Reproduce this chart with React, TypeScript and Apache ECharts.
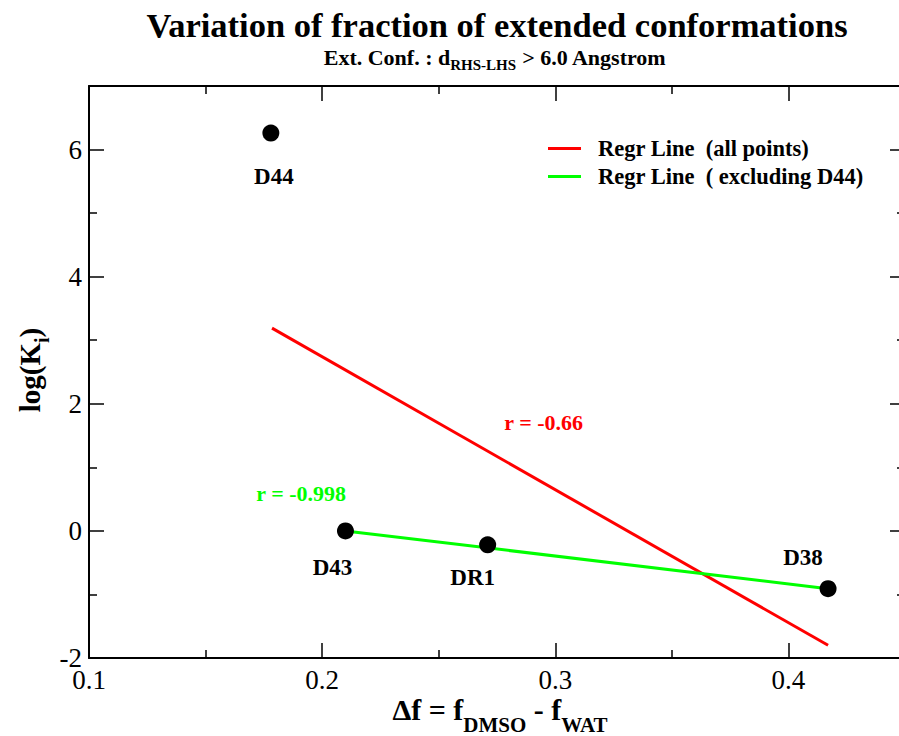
import React, { useEffect, useRef } from "react";
import * as echarts from "echarts";

const pointNames = ["D44", "D43", "DR1", "D38"];
const pointX = [0.178, 0.21, 0.271, 0.417];
const pointY = [6.26, 0.0, -0.22, -0.91];
const labelOffsets = [[3, 43], [-13, 37], [-15, 33], [-25, -31]];

const redLineX = [0.1785, 0.417];
const redLineY = [3.19, -1.8];
const greenLineX = [0.21, 0.417];
const greenLineY = [0.0, -0.91];

const annoText = ["r = -0.66", "r = -0.998"];
const annoX = [0.295, 0.191];
const annoY = [1.7, 0.585];
const annoColor = ["#ff0000", "#00ff00"];

const xTicks = [0.1, 0.45, 0.1];
const yTicks = [-2, 7, 2];

const legendNames = ["Regr Line  (all points)", "Regr Line  ( excluding D44)"];

const FONT = '"Liberation Serif", "Times New Roman", serif';

export default function App() {
  const ref = useRef<HTMLDivElement>(null);
  useEffect(() => {
    if (!ref.current) return;
    const chart = echarts.init(ref.current, null, { renderer: "svg" });
    const axisCommon = {
      type: "value" as const,
      axisLine: { show: true, onZero: false, lineStyle: { color: "#000", width: 2 } },
      axisTick: { show: true, inside: true, length: 15, lineStyle: { color: "#000", width: 1.5 } },
      minorTick: { show: true, splitNumber: 2, length: 8, lineStyle: { color: "#000", width: 1.5 } },
      splitLine: { show: false },
    };
    const option: any = {
      animation: false,
      backgroundColor: "#fff",
      grid: { left: 89, top: 86, width: 816, height: 572, containLabel: false, outerBoundsMode: "none" },
      xAxis: [
        {
          ...axisCommon,
          position: "bottom",
          min: xTicks[0],
          max: xTicks[1],
          interval: xTicks[2],
          axisLabel: {
            margin: 8,
            fontFamily: FONT,
            fontSize: 27,
            color: "#000",
            formatter: (v: number) => (Math.abs(v * 10 - Math.round(v * 10)) < 1e-6 ? v.toFixed(1) : ""),
          },
        },
        {
          ...axisCommon,
          position: "top",
          min: xTicks[0],
          max: xTicks[1],
          interval: xTicks[2],
          axisLabel: { show: false },
        },
      ],
      yAxis: [
        {
          ...axisCommon,
          position: "left",
          min: yTicks[0],
          max: yTicks[1],
          interval: yTicks[2],
          axisLabel: {
            margin: 7,
            fontFamily: FONT,
            fontSize: 27,
            color: "#000",
            formatter: (v: number) => (v === 7 ? "" : String(v)),
          },
        },
        {
          ...axisCommon,
          position: "right",
          min: yTicks[0],
          max: yTicks[1],
          interval: yTicks[2],
          axisLabel: { show: false },
        },
      ],
      legend: {
        orient: "vertical",
        left: 543,
        top: 132,
        itemWidth: 33,
        itemHeight: 3,
        itemGap: 5,
        icon: "rect",
        data: legendNames,
        textStyle: {
          fontFamily: FONT,
          fontSize: 22.5,
          fontWeight: "bold",
          color: "#000",
          padding: [0, 0, 0, 12],
        },
      },
      series: [
        {
          name: legendNames[0],
          type: "line",
          data: redLineX.map((x, i) => [x, redLineY[i]]),
          showSymbol: false,
          lineStyle: { color: "#ff0000", width: 3 },
          itemStyle: { color: "#ff0000" },
          z: 3,
        },
        {
          name: legendNames[1],
          type: "line",
          data: greenLineX.map((x, i) => [x, greenLineY[i]]),
          showSymbol: false,
          lineStyle: { color: "#00ff00", width: 3 },
          itemStyle: { color: "#00ff00" },
          z: 4,
        },
        {
          type: "scatter",
          symbol: "circle",
          symbolSize: 17,
          itemStyle: { color: "#000", opacity: 1 },
          z: 5,
          data: pointNames.map((n, i) => ({
            name: n,
            value: [pointX[i], pointY[i]],
            label: {
              show: true,
              position: "inside",
              offset: labelOffsets[i],
              formatter: n,
              fontFamily: FONT,
              fontSize: 23,
              fontWeight: "bold",
              color: "#000",
            },
          })),
        },
        {
          type: "scatter",
          symbolSize: 0,
          silent: true,
          itemStyle: { opacity: 1 },
          z: 6,
          data: annoText.map((t, i) => ({
            name: t,
            value: [annoX[i], annoY[i]],
            label: {
              show: true,
              position: "inside",
              formatter: t,
              fontFamily: FONT,
              fontSize: 22,
              fontWeight: "bold",
              color: annoColor[i],
            },
          })),
        },
      ],
      graphic: [
        {
          type: "text",
          x: 497,
          y: 25,
          style: {
            text: "Variation of fraction of extended conformations",
            textAlign: "center",
            textVerticalAlign: "middle",
            fontFamily: FONT,
            fontSize: 34.5,
            fontWeight: "bold",
            fill: "#000",
          },
        },
        {
          type: "text",
          x: 495,
          y: 57,
          style: {
            text: "{a|Ext. Conf. : d}{s|RHS-LHS}{a| > 6.0 Angstrom}",
            textAlign: "center",
            textVerticalAlign: "middle",
            rich: {
              a: { fontFamily: FONT, fontSize: 22, fontWeight: "bold", fill: "#000", lineHeight: 30, verticalAlign: "middle" },
              s: { fontFamily: FONT, fontSize: 15, fontWeight: "bold", fill: "#000", lineHeight: 15, verticalAlign: "bottom" },
            },
          },
        },
        {
          type: "text",
          x: 500,
          y: 709,
          style: {
            text: "{a|Δf = f}{s|DMSO}{a| - f}{s|WAT}",
            textAlign: "center",
            textVerticalAlign: "middle",
            rich: {
              a: { fontFamily: FONT, fontSize: 30, fontWeight: "bold", fill: "#000", lineHeight: 52, verticalAlign: "middle" },
              s: { fontFamily: FONT, fontSize: 21, fontWeight: "bold", fill: "#000", lineHeight: 21, verticalAlign: "bottom" },
            },
          },
        },
        {
          type: "text",
          x: 30,
          y: 370,
          rotation: Math.PI / 2,
          style: {
            text: "{a|log(K}{s|i}{a|)}",
            textAlign: "center",
            textVerticalAlign: "middle",
            rich: {
              a: { fontFamily: FONT, fontSize: 29, fontWeight: "bold", fill: "#000", lineHeight: 44, verticalAlign: "middle" },
              s: { fontFamily: FONT, fontSize: 20, fontWeight: "bold", fill: "#000", lineHeight: 20, verticalAlign: "bottom" },
            },
          },
        },
      ],
    };
    chart.setOption(option);
    return () => chart.dispose();
  }, []);
  return <div ref={ref} style={{ width: 899, height: 736, position: "absolute", left: 0, top: 0 }} />;
}
